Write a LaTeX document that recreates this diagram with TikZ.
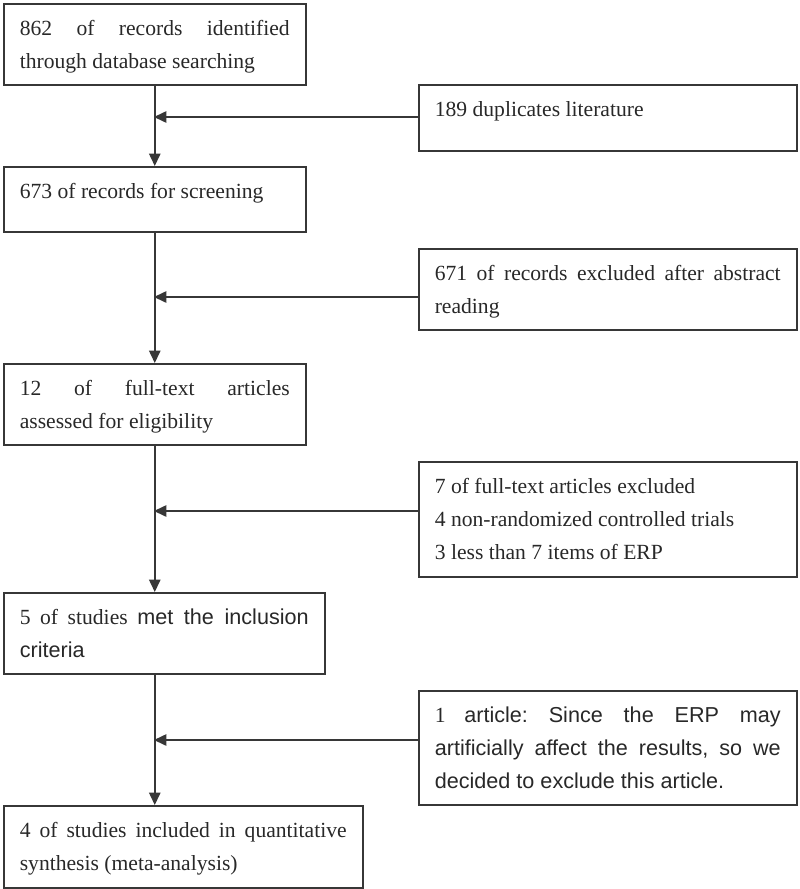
\documentclass[tikz,border=0pt]{standalone}
\usepackage{fontspec}
\setmainfont{Liberation Serif}
\setsansfont{Liberation Sans}
\usetikzlibrary{arrows.meta}

\begin{document}
\begin{tikzpicture}[
        x = 0.02cm,
        y = -0.02cm
    ]

        \definecolor{flowline}{RGB}{55,55,55}
        \definecolor{flowtext}{RGB}{40,40,40}

        \tikzset{%
            stage/.style = {%
                rectangle,
                draw        = flowline,
                line width  = 0.9pt,
                anchor      = north west,
                inner xsep  = 0.32cm,
                inner ysep  = 0pt,
                text height = 0.64cm,
                text        = flowtext
            },
            flow/.style = {%
                draw       = flowline,
                line width = 0.9pt,
                -{Triangle[length = 0.25cm, width = 0.23cm]}
            }
        }

        \newcommand{\stagetext}[2]{\parbox[t]{#1}{\frenchspacing\fontsize{12.3}{18.8}\selectfont #2}}

        \useasboundingbox (0, 0) rectangle (800, 889);

        % main column
        \node[stage, text depth = 0.98cm] (ident) at (3, 3) {\stagetext{5.4cm}{862 of records identified\linebreak through database searching}};
        \node[stage, text depth = 0.66cm] (screen) at (3, 166) {\stagetext{5.4cm}{673 of records for screening}};
        \node[stage, text depth = 0.98cm] (full) at (3, 363) {\stagetext{5.4cm}{12 of full-text articles\linebreak assessed for eligibility}};
        \node[stage, text depth = 0.98cm] (incl) at (3, 592) {\stagetext{5.78cm}{5 of studies \textsf{met the inclusion}\linebreak \textsf{criteria}}};
        \node[stage, text depth = 1.0cm] (synth) at (3, 805) {\stagetext{6.54cm}{4 of studies included in quantitative\linebreak synthesis (meta-analysis)}};

        % exclusions
        \node[stage, text depth = 0.68cm] (dup) at (418, 84) {\stagetext{6.92cm}{189 duplicates literature}};
        \node[stage, text depth = 0.98cm] (abstr) at (418, 248) {\stagetext{6.92cm}{671 of records excluded after abstract\linebreak reading}};
        \node[stage, text depth = 1.66cm] (fulltx) at (418, 461) {\stagetext{6.92cm}{7 of full-text articles excluded\\ 4 non-randomized controlled trials\\ 3 less than 7 items of ERP}};
        \node[stage, text depth = 1.64cm] (erp) at (418, 690) {\stagetext{6.92cm}{1 \textsf{article: Since the ERP may}\linebreak \textsf{artificially affect the results, so we}\linebreak \textsf{decided to exclude this article.}}};

        \coordinate (j1) at (154, 117);
        \coordinate (j2) at (154, 297);
        \coordinate (j3) at (154, 511);
        \coordinate (j4) at (154, 740);

        \draw[flow] (ident.south) -- (screen.north);
        \draw[flow] (screen.south) -- (full.north);
        \draw[flow] (full.south) -- (incl.north -| full.south);
        \draw[flow] (incl.south -| full.south) -- (synth.north -| full.south);

        \foreach \src/\dst in {dup/j1, abstr/j2, fulltx/j3, erp/j4} {
            \draw[flow] (\src.west |- \dst) -- (\dst);
        }

    \end{tikzpicture}
\end{document}
